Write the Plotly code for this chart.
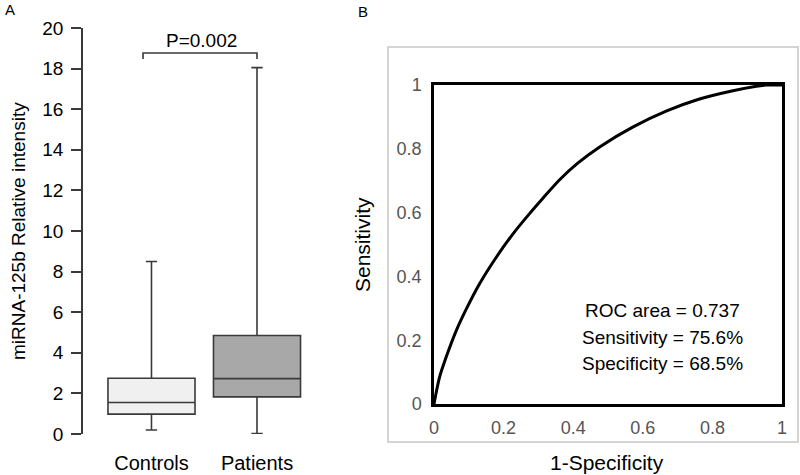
import plotly.graph_objects as go

# ---------------- data ----------------
groups = ["Controls", "Patients"]
q1 = [0.98, 1.83]
median = [1.55, 2.73]
q3 = [2.75, 4.85]
lower_whisker = [0.2, 0.02]
upper_whisker = [8.5, 18.05]
box_colors = ["#f0f0f0", "#a8a8a8"]
p_label = "P=0.002"
y_ticks_a = [0, 2, 4, 6, 8, 10, 12, 14, 16, 18, 20]

fpr = [0, 0.016, 0.035, 0.064, 0.093, 0.131, 0.179, 0.226, 0.274, 0.313, 0.361,
       0.413, 0.476, 0.571, 0.667, 0.763, 0.859, 0.926, 0.954, 1.0]
tpr = [0, 0.084, 0.147, 0.230, 0.298, 0.377, 0.460, 0.532, 0.596, 0.645, 0.703,
       0.755, 0.806, 0.868, 0.918, 0.956, 0.982, 0.996, 1.0, 1.0]
roc_ticks = [0, 0.2, 0.4, 0.6, 0.8, 1]
roc_text = ["ROC area = 0.737", "Sensitivity = 75.6%", "Specificity = 68.5%"]

W, H = 800, 475
def px(x): return x / W
def py(y): return 1 - y / H

FONT = "Arial, Liberation Sans, sans-serif"
fig = go.Figure()

def label(x, y, text, size, angle=0, color="black"):
    fig.add_annotation(x=px(x), y=py(y), xref="paper", yref="paper", text=text,
                       textangle=angle, showarrow=False, xanchor="center",
                       yanchor="middle", font=dict(size=size, color=color, family=FONT))

# ---------------- panel A ----------------
for i, g in enumerate(groups):
    fig.add_trace(go.Box(
        x=[i], q1=[q1[i]], median=[median[i]], q3=[q3[i]],
        lowerfence=[lower_whisker[i]], upperfence=[upper_whisker[i]],
        name=g, fillcolor=box_colors[i], line=dict(color="#3a3a3a", width=1.6),
        width=0.825, whiskerwidth=0.13, boxpoints=False, showlegend=False,
        xaxis="x", yaxis="y", hoverinfo="skip"))

# significance bracket (data coords)
fig.add_shape(type="path", xref="x", yref="y",
              path="M -0.08 18.47 L -0.08 18.77 L 1.0 18.77 L 1.0 18.47",
              line=dict(color="#3a3a3a", width=1.6))
fig.add_annotation(x=0.47, y=19.4, xref="x", yref="y", text=p_label,
                   showarrow=False, xanchor="center", yanchor="middle",
                   font=dict(size=19, color="black", family=FONT))

# ---------------- panel B ----------------
fig.add_trace(go.Scatter(x=fpr, y=tpr, mode="lines",
                         line=dict(color="black", width=3, shape="spline", smoothing=0.8),
                         xaxis="x2", yaxis="y2", showlegend=False, cliponaxis=False,
                         hoverinfo="skip"))

# light gray frame around panel B
fig.add_shape(type="rect", xref="paper", yref="paper",
              x0=px(388), x1=px(798), y0=py(442), y1=py(47),
              line=dict(color="#d4d4d4", width=2), layer="below")

for t, yy in zip(roc_text, [310, 337, 363]):
    label(662, yy, t, 19)

label(18, 231, "miRNA-125b Relative intensity", 19, angle=-90)
label(362, 245, "Sensitivity", 21, angle=-90)
label(607, 462, "1-Specificity", 21)
label(10, 10, "A", 15)
label(363, 11, "B", 15)

fig.update_layout(
    width=W, height=H, margin=dict(l=0, r=0, t=0, b=0, autoexpand=False),
    paper_bgcolor="white", plot_bgcolor="white",
    font=dict(family=FONT, color="black"),
    xaxis=dict(domain=[px(83), px(320)], range=[-0.649, 1.597],
               tickvals=[0, 1], ticktext=groups, ticks="", showline=False,
               showgrid=False, zeroline=False, tickfont=dict(size=20, color="black"),
               ticklabelstandoff=15, automargin=False),
    yaxis=dict(domain=[py(434), py(28)], range=[0, 20], tickvals=y_ticks_a,
               showline=True, linecolor="#3a3a3a", linewidth=1.6,
               ticks="outside", ticklen=10, tickwidth=1.6, tickcolor="#3a3a3a",
               showgrid=False, zeroline=False, tickfont=dict(size=19, color="black"),
               ticklabelstandoff=4, automargin=False),
    xaxis2=dict(domain=[px(434), px(782)], range=[0, 1], tickvals=roc_ticks,
                showline=True, mirror=True, linecolor="black", linewidth=2.5,
                ticks="", showgrid=False, zeroline=False, anchor="y2",
                tickfont=dict(size=18, color="#555555"), ticklabelstandoff=6,
                automargin=False),
    yaxis2=dict(domain=[py(404), py(85)], range=[0, 1], tickvals=roc_ticks,
                showline=True, mirror=True, linecolor="black", linewidth=2.5,
                ticks="", showgrid=False, zeroline=False, anchor="x2",
                tickfont=dict(size=18, color="#555555"), ticklabelstandoff=6,
                automargin=False),
)

# remove the default 8px page margin so the figure fills the 800x475 window
fig.write_html("out.html", config={"displayModeBar": False},
               post_script="document.body.style.margin='0';document.body.style.overflow='hidden';")
